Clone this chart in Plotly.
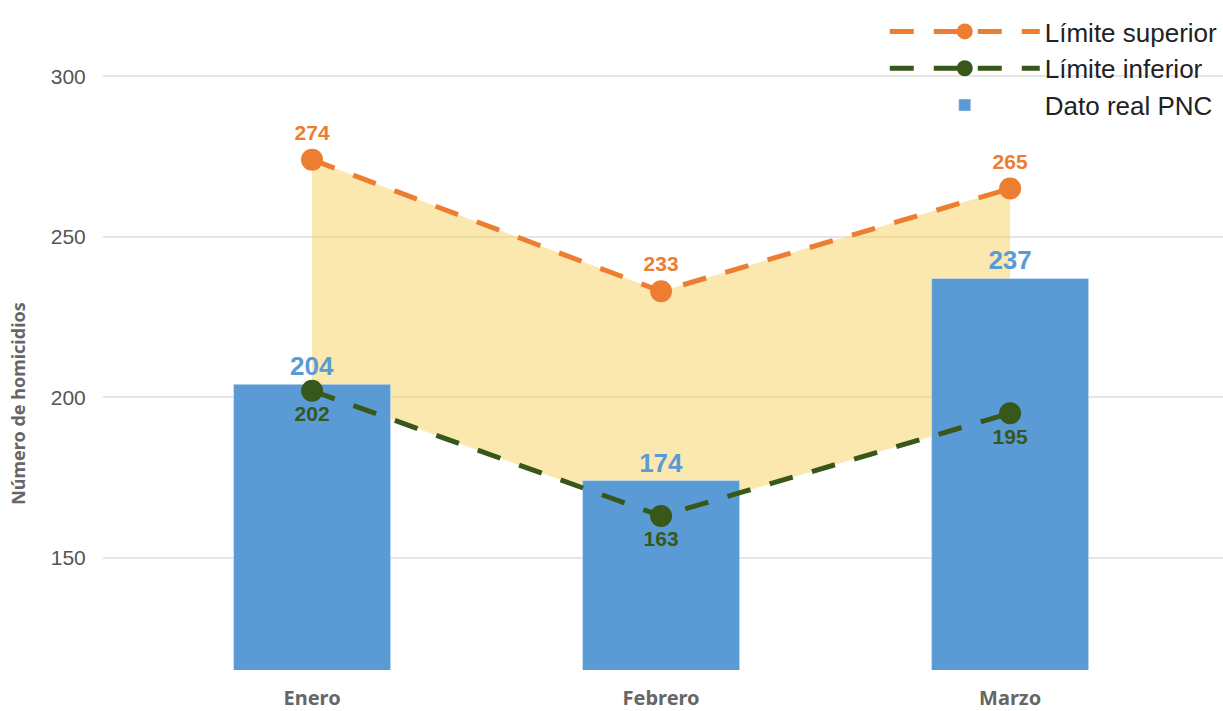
import plotly.graph_objects as go

meses = ["Enero", "Febrero", "Marzo"]
dato_real = [204, 174, 237]
limite_superior = [274, 233, 265]
limite_inferior = [202, 163, 195]
y_ticks = [150, 200, 250, 300]

ORANGE = "#ED7D31"
GREEN = "#38571A"
BLUE = "#5B9BD5"
FILL = "rgba(246,210,95,0.5)"

fig = go.Figure()

# shaded band (drawn on the base subplot, beneath bars)
fig.add_trace(go.Scatter(x=meses, y=limite_superior, mode="lines",
                         line=dict(width=0), showlegend=False, hoverinfo="skip",
                         xaxis="x", yaxis="y"))
fig.add_trace(go.Scatter(x=meses, y=limite_inferior, mode="lines",
                         line=dict(width=0), fill="tonexty", fillcolor=FILL,
                         showlegend=False, hoverinfo="skip",
                         xaxis="x", yaxis="y"))

# bars and lines on overlay subplot (above band)
fig.add_trace(go.Bar(
    x=meses, y=dato_real, name="Dato real PNC", marker_color=BLUE, width=0.45,
    text=[str(v) for v in dato_real], textposition="outside",
    textfont=dict(family="Liberation Sans", size=26, color=BLUE, weight="bold"),
    xaxis="x", yaxis="y2", cliponaxis=False, legendrank=3))
fig.add_trace(go.Scatter(
    x=meses, y=limite_superior, name="Límite superior",
    mode="lines+markers+text", text=[str(v) for v in limite_superior],
    textposition="top center",
    textfont=dict(family="Liberation Sans", size=21, color=ORANGE, weight="bold"),
    line=dict(color=ORANGE, width=5, dash="24px,20px"),
    marker=dict(symbol="circle", size=22, color=ORANGE),
    xaxis="x", yaxis="y2", cliponaxis=False, legendrank=1))
fig.add_trace(go.Scatter(
    x=meses, y=limite_inferior, name="Límite inferior",
    mode="lines+markers+text", text=[str(v) for v in limite_inferior],
    textposition="bottom center",
    textfont=dict(family="Liberation Sans", size=21, color=GREEN, weight="bold"),
    line=dict(color=GREEN, width=5, dash="24px,20px"),
    marker=dict(symbol="circle", size=22, color=GREEN),
    xaxis="x", yaxis="y2", cliponaxis=False, legendrank=2))

yrange = [115, 320]
fig.update_layout(
    width=1223, height=711,
    paper_bgcolor="white", plot_bgcolor="white",
    margin=dict(l=103, r=0, t=12, b=41, autoexpand=False),
    xaxis=dict(range=[-0.599, 2.61], showgrid=False, zeroline=False,
               ticks="outside", ticklen=10, tickcolor="rgba(0,0,0,0)",
               tickfont=dict(family="Noto Sans", size=20, color="#666666", weight="bold")),
    yaxis=dict(range=yrange, tickvals=y_ticks, showgrid=True, gridcolor="#e6e6e6",
               gridwidth=2, zeroline=False, showline=False,
               ticks="outside", ticklen=12, tickcolor="rgba(0,0,0,0)",
               tickfont=dict(family="Liberation Sans", size=21, color="#555555")),
    yaxis2=dict(range=yrange, overlaying="y", showgrid=False, zeroline=False,
                showticklabels=False, visible=False),
    barmode="overlay",
    legend=dict(x=0.698, xanchor="left", y=1.006, yanchor="top",
                traceorder="normal", itemwidth=150,
                font=dict(family="Liberation Sans", size=26, color="#222222"),
                bgcolor="rgba(0,0,0,0)"),
    annotations=[dict(text="Número de homicidios", textangle=-90,
                      xref="paper", yref="paper", x=-0.0759, y=0.406,
                      xanchor="center", yanchor="middle", showarrow=False,
                      font=dict(family="Noto Sans", size=18, color="#666666", weight="bold"))],
)

fig.write_html("out.html", config={"displayModeBar": False},
               post_script="document.body.style.margin='0';document.body.style.overflow='hidden';")
